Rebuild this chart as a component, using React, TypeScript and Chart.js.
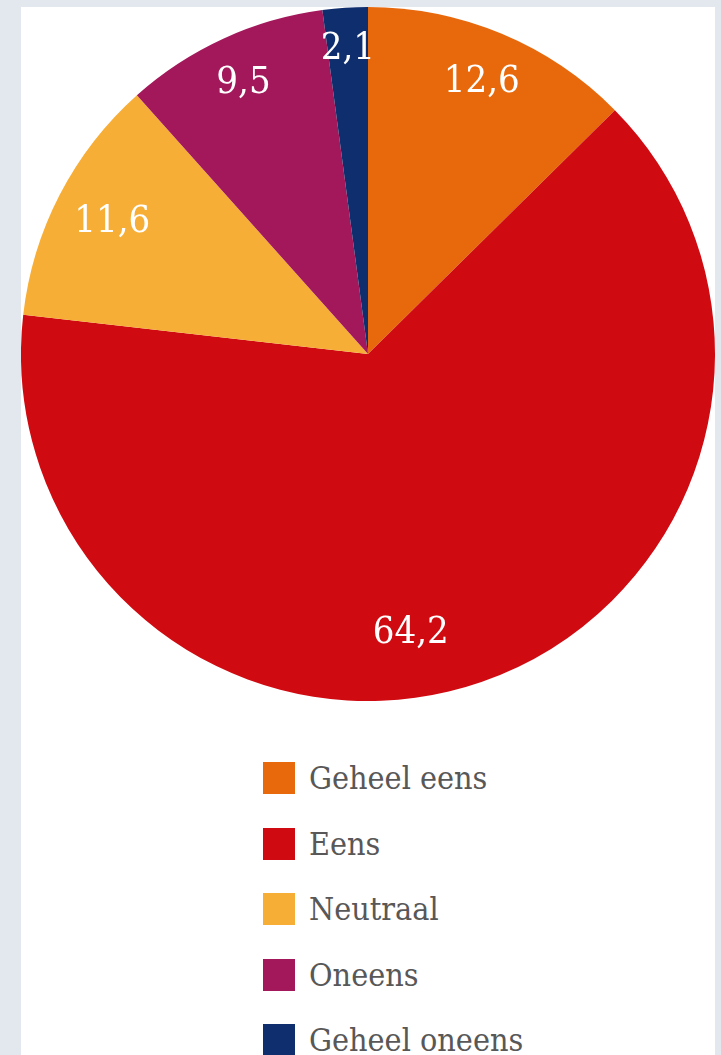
import React, { useEffect, useRef } from "react";
import { Chart, registerables } from "chart.js";

Chart.register(...registerables);

const categories = ["Geheel eens", "Eens", "Neutraal", "Oneens", "Geheel oneens"];
const values = [12.6, 64.2, 11.6, 9.5, 2.1];
const valueLabels = ["12,6", "64,2", "11,6", "9,5", "2,1"];
const colors = ["#e8680c", "#d00a11", "#f7ae36", "#a3185b", "#0f2e6d"];

const labelFont = "'DejaVu Serif Condensed', 'DejaVu Serif', serif";

// label placement style: radius fraction and angular nudge (degrees) per slice
const labelRadius = [0.85, 0.815, 0.83, 0.86, 0.88];
const labelNudge = [0, 10.4, 0, 0, 0];

const sliceLabels = {
  id: "sliceLabels",
  afterDatasetsDraw(chart: any) {
    const ctx = chart.ctx;
    const meta = chart.getDatasetMeta(0);
    ctx.save();
    ctx.fillStyle = "#ffffff";
    ctx.textAlign = "center";
    ctx.textBaseline = "middle";
    ctx.font = `38px ${labelFont}`;
    meta.data.forEach((arc: any, i: number) => {
      const { x, y, startAngle, endAngle, outerRadius } = arc.getProps(
        ["x", "y", "startAngle", "endAngle", "outerRadius"],
        true
      );
      const mid = (startAngle + endAngle) / 2 + (labelNudge[i] * Math.PI) / 180;
      const r = outerRadius * labelRadius[i];
      ctx.fillText(valueLabels[i], x + Math.cos(mid) * r, y + Math.sin(mid) * r);
    });
    ctx.restore();
  },
};

export default function App() {
  const ref = useRef<HTMLCanvasElement | null>(null);

  useEffect(() => {
    if (!ref.current) return;
    const chart = new Chart(ref.current, {
      type: "pie",
      data: {
        labels: categories,
        datasets: [
          {
            data: values,
            backgroundColor: colors,
            borderWidth: 0,
          },
        ],
      },
      options: {
        animation: false,
        responsive: true,
        maintainAspectRatio: false,
        layout: { padding: 0 },
        plugins: {
          legend: { display: false },
          tooltip: { enabled: false },
        },
      },
      plugins: [sliceLabels],
    });
    return () => chart.destroy();
  }, []);

  return (
    <div style={{ position: "absolute", inset: 0, background: "#e3e7ee", overflow: "hidden" }}>
      <div
        style={{
          position: "absolute",
          left: 21,
          top: 7,
          width: 694,
          height: 1048,
          background: "#ffffff",
        }}
      >
        <div style={{ position: "absolute", left: 0, top: 0, width: 694, height: 694 }}>
          <canvas ref={ref} />
        </div>
        <div style={{ position: "absolute", left: 242, top: 755 }}>
          {categories.map((c, i) => (
            <div
              key={c}
              style={{
                display: "flex",
                alignItems: "center",
                height: 32,
                marginBottom: 33.5,
              }}
            >
              <div style={{ width: 32, height: 32, background: colors[i], flex: "none" }} />
              <span
                style={{
                  marginLeft: 14,
                  fontFamily: labelFont,
                  fontSize: 32,
                  color: "#585858",
                  whiteSpace: "nowrap",
                  lineHeight: "32px",
                }}
              >
                {c}
              </span>
            </div>
          ))}
        </div>
      </div>
    </div>
  );
}
